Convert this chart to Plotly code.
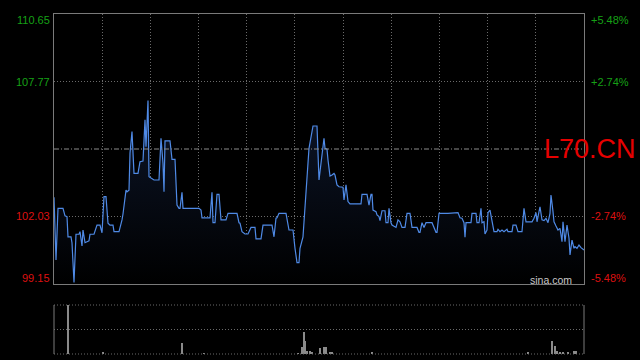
import plotly.graph_objects as go

# ---- data ----
tick_idx = [0, 2, 4, 9, 11, 13, 14, 17, 18, 20, 22, 25, 26, 28, 29, 31, 33, 35, 36, 40,
            43, 46, 48, 50, 52, 54, 56, 59, 60, 65, 68, 69, 72, 73, 75, 76, 78, 80, 84, 86,
            89, 91, 92, 94, 95, 98, 100, 105, 107, 109, 110, 111, 116, 118, 121, 123, 125, 126, 128, 129,
            145, 147, 148, 156, 158, 159, 161, 163, 165, 167, 172, 174, 183, 185, 186, 188, 191, 194, 197, 201,
            202, 207, 209, 218, 220, 222, 223, 225, 232, 235, 239, 241, 243, 245, 246, 249, 252, 255, 259, 263,
            265, 267, 268, 270, 271, 273, 274, 276, 278, 280, 281, 283, 285, 289, 290, 292, 294, 296, 307, 308,
            313, 315, 317, 318, 319, 322, 323, 325, 326, 328, 331, 332, 334, 335, 337, 338, 342, 344, 346, 348,
            351, 353, 356, 358, 363, 365, 366, 368, 370, 372, 378, 380, 382, 383, 385, 394, 398, 401, 404, 406,
            408, 410, 411, 412, 417, 418, 422, 423, 425, 427, 428, 430, 431, 433, 434, 436, 438, 440, 443, 444,
            446, 448, 450, 453, 454, 458, 459, 462, 464, 468, 470, 472, 478, 480, 482, 483, 485, 486, 488, 490,
            492, 494, 496, 497, 499, 500, 502, 504, 506, 508, 509, 511, 513, 515, 516, 518, 520, 521, 523, 525,
            527, 530]
prices = [102.84, 100.17, 102.37, 102.37, 102.05, 102.02, 101.16, 101.16, 100.90, 99.22,
          101.27, 101.27, 101.38, 100.77, 101.45, 100.91, 100.95, 100.99, 101.27, 101.27,
          101.66, 101.66, 101.33, 102.87, 102.87, 101.74, 101.66, 101.66, 101.38, 101.38,
          101.88, 102.13, 103.15, 103.08, 103.15, 104.72, 105.64, 103.86, 103.86, 104.36,
          104.39, 106.14, 105.00, 106.96, 103.72, 103.65, 103.58, 103.58, 105.36, 104.29,
          103.08, 105.25, 105.25, 104.46, 104.46, 102.51, 102.37, 102.37, 103.06, 102.37,
          102.37, 102.30, 101.97, 101.97, 103.06, 101.76, 101.76, 102.97, 102.97, 101.88,
          101.88, 102.16, 102.16, 101.76, 101.74, 101.38, 101.28, 101.28, 101.56, 101.56,
          101.07, 101.07, 101.66, 101.66, 101.16, 101.95, 101.97, 102.16, 102.16, 101.45,
          101.45, 100.67, 100.06, 100.06, 100.67, 101.16, 103.01, 104.93, 105.88, 105.88,
          103.58, 104.36, 104.57, 105.36, 104.93, 104.89, 104.43, 103.75, 103.79, 103.86,
          103.79, 103.37, 103.29, 103.27, 102.73, 103.37, 102.66, 102.56, 102.56, 102.97,
          102.97, 102.51, 102.97, 102.97, 102.30, 102.23, 102.09, 102.02, 101.85, 102.27,
          102.27, 101.76, 101.76, 102.37, 101.76, 101.66, 101.56, 101.88, 101.80, 101.56,
          101.56, 102.16, 102.16, 101.56, 101.56, 101.35, 101.35, 101.76, 101.56, 101.76,
          101.76, 101.56, 101.35, 101.35, 102.16, 102.16, 102.16, 102.19, 102.19, 101.97,
          101.95, 101.76, 101.14, 101.76, 101.76, 102.16, 102.16, 101.76, 101.76, 102.37,
          101.76, 101.80, 101.28, 101.45, 102.19, 102.30, 101.76, 101.38, 101.38, 101.48,
          101.38, 101.45, 101.38, 101.48, 101.38, 101.38, 101.66, 101.66, 101.38, 101.38,
          102.37, 101.80, 101.80, 101.95, 102.19, 101.80, 102.23, 102.44, 101.88, 101.85,
          101.95, 101.76, 102.16, 102.94, 102.23, 101.80, 101.62, 101.45, 101.52, 100.95,
          101.80, 100.95, 101.66, 101.10, 100.39, 101.02, 100.67, 100.74, 100.67, 100.81,
          100.70, 100.60]

vol_idx = [14, 49, 128, 150, 244, 248, 250, 251, 253, 256, 258, 266, 270, 272, 276, 278,
           318, 474, 498, 501, 503, 506, 509, 514, 520, 522]
volumes = [4900, 200, 1130, 100, 100, 730, 2200, 1300, 300, 350, 200, 600, 700, 700, 200, 200,
           150, 150, 1270, 830, 350, 250, 150, 150, 300, 300]

pre_close = 104.90
price_min, price_max = 99.15, 110.65
left_labels = ["110.65", "107.77", "102.03", "99.15"]
left_vals = [110.65, 107.77, 102.03, 99.15]
right_labels = ["+5.48%", "+2.74%", "-2.74%", "-5.48%"]
label_colors = ["#16a016", "#16a016", "#dd1010", "#dd1010"]
n_ticks = 530
n_cols = 11

# ---- figure ----
fig = go.Figure()
fig.add_trace(go.Scatter(
    x=tick_idx, y=prices, mode="lines",
    line=dict(color="#4f8ae6", width=1.2),
    fill="tozeroy",
    fillgradient=dict(type="vertical",
                      colorscale=[[0, "rgb(0,0,0)"], [1, "rgb(13,22,42)"]],
                      start=price_min, stop=max(prices)),
    xaxis="x", yaxis="y", hoverinfo="skip", showlegend=False))

fig.add_trace(go.Bar(
    x=vol_idx, y=volumes, width=1,
    marker=dict(color="#8a8a8a", line=dict(width=0)),
    xaxis="x2", yaxis="y2", hoverinfo="skip", showlegend=False))

grid_x = [n_ticks * k / n_cols for k in range(1, n_cols)]
dot = "1px,2px"

fig.update_layout(
    width=640, height=360,
    margin=dict(l=54, r=56, t=14, b=6),
    paper_bgcolor="black", plot_bgcolor="black",
    font=dict(family="Liberation Sans, Arial", size=11),
    bargap=0,
    xaxis=dict(domain=[0, 1], range=[0, n_ticks], tickvals=grid_x, showticklabels=False,
               ticks="", showgrid=True, gridcolor="#6a6a6a", griddash=dot, gridwidth=1,
               zeroline=False, showline=True, linecolor="#7a7a7a", linewidth=1, mirror=True,
               anchor="y"),
    yaxis=dict(domain=[70 / 340, 1], range=[price_min, price_max], tickvals=[107.77, 102.03],
               showticklabels=False, ticks="", showgrid=True, gridcolor="#6a6a6a", griddash=dot,
               zeroline=False, showline=True, linecolor="#7a7a7a", linewidth=1, mirror=True,
               anchor="x"),
    xaxis2=dict(domain=[0, 1], range=[0, n_ticks], matches="x", showticklabels=False,
                ticks="", showgrid=False, zeroline=False, showline=False, anchor="y2"),
    yaxis2=dict(domain=[0, 49 / 340], range=[0, max(volumes)], tickvals=[max(volumes) / 2],
                showticklabels=False, ticks="", showgrid=True, gridcolor="#6a6a6a", griddash=dot,
                zeroline=False, showline=False, anchor="x2"),
)

shapes = [
    dict(type="line", xref="x domain", yref="y", x0=0, x1=1, y0=pre_close, y1=pre_close,
         line=dict(color="#8c8c8c", width=1, dash="5px,2px,1px,2px")),
    dict(type="line", xref="x2 domain", yref="y2 domain", x0=0, x1=1, y0=1, y1=1,
         line=dict(color="#6a6a6a", width=1, dash=dot)),
    dict(type="line", xref="x2 domain", yref="y2 domain", x0=0, x1=1, y0=0, y1=0,
         line=dict(color="#6a6a6a", width=1, dash=dot)),
    dict(type="line", xref="x2 domain", yref="y2 domain", x0=0, x1=0, y0=0, y1=1,
         line=dict(color="#7a7a7a", width=1)),
    dict(type="line", xref="x2 domain", yref="y2 domain", x0=1, x1=1, y0=0, y1=1,
         line=dict(color="#7a7a7a", width=1)),
]
fig.update_layout(shapes=shapes)

shifts = [-6, 0, 0, 6]
ann = []
for lab, val, col, sh in zip(left_labels, left_vals, label_colors, shifts):
    ann.append(dict(text=lab, xref="paper", yref="y", x=0, y=val, xanchor="right",
                    yanchor="middle", xshift=-2, yshift=sh, showarrow=False,
                    font=dict(color=col, size=11)))
for lab, val, col, sh in zip(right_labels, left_vals, label_colors, shifts):
    ann.append(dict(text=lab, xref="paper", yref="y", x=1, y=val, xanchor="left",
                    yanchor="middle", xshift=5, yshift=sh, showarrow=False,
                    font=dict(color=col, size=11)))
ann.append(dict(text="L70.CN", xref="paper", yref="y", x=(544 - 54) / 530, y=pre_close,
                xanchor="left", yanchor="middle", showarrow=False, xshift=-2,
                font=dict(color="#e60000", size=27)))
ann.append(dict(text="sina.com", xref="paper", yref="paper", x=(574 - 54) / 530,
                y=(354 - 279.5) / 340, xanchor="right", yanchor="middle", showarrow=False,
                font=dict(color="#c8c8c8", size=10.5)))
fig.update_layout(annotations=ann)

fig.write_html("out.html")
